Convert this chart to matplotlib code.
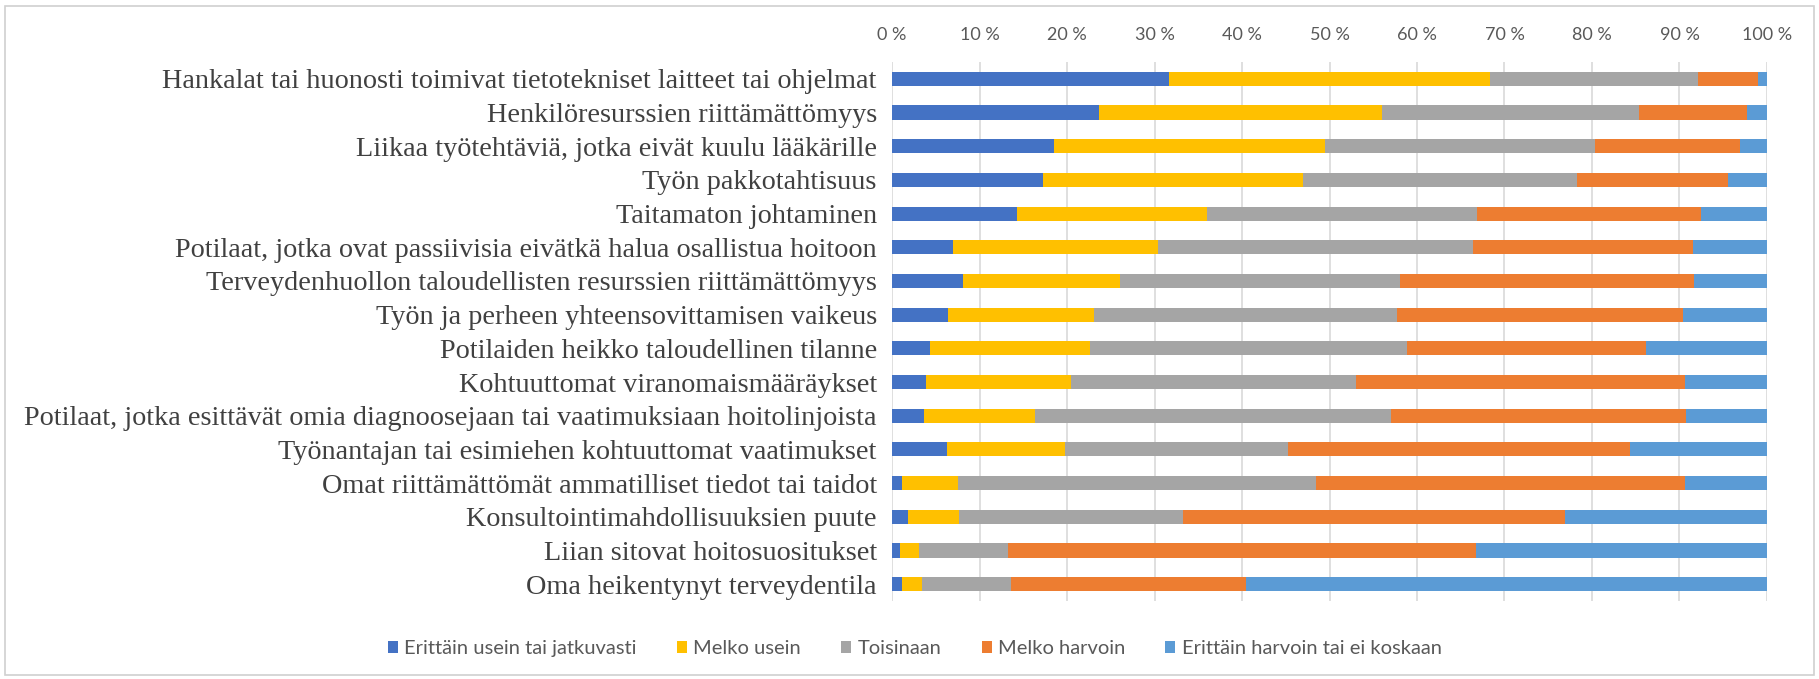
import numpy as np
import matplotlib.pyplot as plt
from matplotlib.patches import Rectangle

categories = [
    "Hankalat tai huonosti toimivat tietotekniset laitteet tai ohjelmat",
    "Henkilöresurssien riittämättömyys",
    "Liikaa työtehtäviä, jotka eivät kuulu lääkärille",
    "Työn pakkotahtisuus",
    "Taitamaton johtaminen",
    "Potilaat, jotka ovat passiivisia eivätkä halua osallistua hoitoon",
    "Terveydenhuollon taloudellisten resurssien riittämättömyys",
    "Työn ja perheen yhteensovittamisen vaikeus",
    "Potilaiden heikko taloudellinen tilanne",
    "Kohtuuttomat viranomaismääräykset",
    "Potilaat, jotka esittävät omia diagnoosejaan tai vaatimuksiaan hoitolinjoista",
    "Työnantajan tai esimiehen kohtuuttomat vaatimukset",
    "Omat riittämättömät ammatilliset tiedot tai taidot",
    "Konsultointimahdollisuuksien puute",
    "Liian sitovat hoitosuositukset",
    "Oma heikentynyt terveydentila",
]

series_names = ["Erittäin usein tai jatkuvasti", "Melko usein", "Toisinaan",
                "Melko harvoin", "Erittäin harvoin tai ei koskaan"]

# cumulative boundaries (%)
cum_1 = [31.6, 23.6, 18.5, 17.2, 14.3, 7.0, 8.1, 6.4, 4.3, 3.9, 3.7, 6.3, 1.1, 1.8, 0.9, 1.1]
cum_2 = [68.3, 56.0, 49.5, 47.0, 36.0, 30.4, 26.0, 23.1, 22.6, 20.4, 16.3, 19.8, 7.5, 7.7, 3.1, 3.4]
cum_3 = [92.1, 85.4, 80.3, 78.3, 66.9, 66.4, 58.0, 57.7, 58.9, 53.0, 57.0, 45.3, 48.5, 33.2, 13.2, 13.6]
cum_4 = [99.0, 97.7, 96.9, 95.5, 92.5, 91.6, 91.7, 90.4, 86.2, 90.6, 90.8, 84.4, 90.6, 76.9, 66.7, 40.4]

colors = ["#4472C4", "#FFC000", "#A5A5A5", "#ED7D31", "#5B9BD5"]

bounds = np.array([np.zeros(16), cum_1, cum_2, cum_3, cum_4, np.full(16, 100.0)])
y = np.arange(len(categories))

fig = plt.figure(figsize=(18.19, 6.79), dpi=100)
ax = fig.add_axes([0.4904, 0.1149, 0.4810, 0.7938])

for i in range(5):
    ax.barh(y, bounds[i + 1] - bounds[i], left=bounds[i], height=0.42,
            color=colors[i], label=series_names[i], zorder=3)

ax.set_xlim(0, 100)
ax.set_ylim(len(categories) - 0.5, -0.5)
ax.set_xticks(np.arange(0, 101, 10))
ax.set_xticklabels(["{} %".format(v) for v in range(0, 101, 10)],
                   family="Lato", fontsize=13, color="#595959")
ax.xaxis.tick_top()
ax.tick_params(axis="x", length=0, pad=14)
ax.set_yticks(y)
ax.set_yticklabels(categories, family="Liberation Serif", fontsize=20.3, color="#404040")
ax.tick_params(axis="y", length=0, pad=11)
ax.grid(axis="x", color="#D9D9D9", linewidth=1.2, zorder=0)
for s in ax.spines.values():
    s.set_visible(False)

leg = fig.legend(loc="center", bbox_to_anchor=(0.503, 0.045), ncol=5, frameon=False,
                 handlelength=0.5, handleheight=0.5, handletextpad=0.3,
                 columnspacing=2.0, prop={"family": "Lato", "size": 14.5})
for t in leg.get_texts():
    t.set_color("#595959")

fig.patches.append(Rectangle((0.003, 0.006), 0.994, 0.985, transform=fig.transFigure,
                             fill=False, edgecolor="#D0D0D0", linewidth=1.2))

fig.savefig("out.png", dpi=100, facecolor="white")
